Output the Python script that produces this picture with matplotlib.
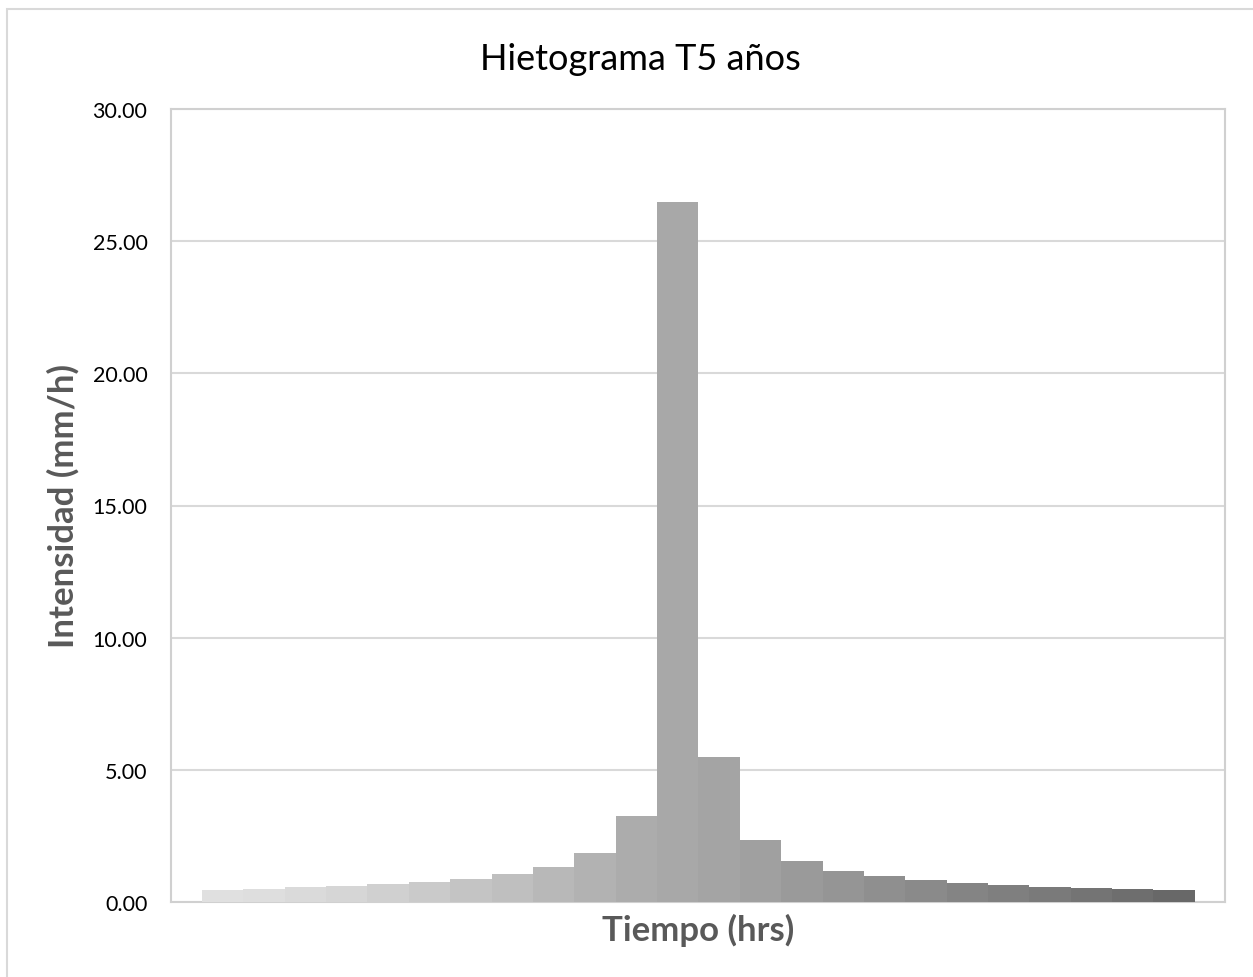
import matplotlib
matplotlib.use("Agg")
import matplotlib.pyplot as plt
import matplotlib.patches as patches
import numpy as np

# ---------------------------------------------------------------------------
# Données
# ---------------------------------------------------------------------------

intervalos = np.arange(1, 25)
intensidad = [0.45, 0.49, 0.57, 0.61, 0.68, 0.76, 0.87, 1.06, 1.32, 1.85,
              3.25, 26.50, 5.50, 2.35, 1.55, 1.17, 0.98, 0.83, 0.72, 0.64,
              0.57, 0.53, 0.49, 0.45]
grises = [224, 222, 218, 214, 208, 202, 196, 191, 184, 178, 172, 168,
          164, 160, 154, 149, 143, 138, 132, 127, 122, 116, 110, 104]
y_ticks = [0, 5, 10, 15, 20, 25, 30]

titulo  = "Hietograma T5 años"
x_label = "Tiempo (hrs)"
y_label = "Intensidad (mm/h)"

# ---------------------------------------------------------------------------
# Figure
# ---------------------------------------------------------------------------

plt.rcParams["font.family"] = ["Lato", "DejaVu Sans"]

W, H = 1253, 978
fig = plt.figure(figsize=(W / 100, H / 100), dpi=100)

# cadre extérieur du graphique (coupé à droite et en bas)
fig.patches.append(patches.Rectangle(
    (7 / W, -0.1), 1.2, (H - 10) / H + 0.1,
    transform=fig.transFigure, facecolor="none",
    edgecolor="#d9d9d9", linewidth=1.5, clip_on=False
))

left, right, top, bottom = 171, 1225, 110, 903
ax = fig.add_axes([left / W, (H - bottom) / H,
                   (right - left) / W, (bottom - top) / H])

couleurs = [(g / 255, g / 255, g / 255) for g in grises]
x = np.arange(len(intensidad))
ax.bar(x, intensidad, width=1.0, color=couleurs, linewidth=0, zorder=3)

ax.set_xlim(-0.5 - 0.75, len(intensidad) - 0.5 + 0.73)
ax.set_ylim(0, 30)
ax.set_yticks(y_ticks)
ax.set_yticklabels([f"{v:.2f}" for v in y_ticks], fontsize=15.5, color="#000000")
ax.set_xticks([])
ax.tick_params(axis="y", length=0, pad=17)
ax.grid(axis="y", color="#d9d9d9", linewidth=1.5, zorder=0)

for s in ax.spines.values():
    s.set_color("#d0d0d0")
    s.set_linewidth(1.5)

ax.set_xlabel(x_label, fontsize=25, fontweight="bold", color="#595959", labelpad=8)
ax.set_ylabel(y_label, fontsize=25, fontweight="bold", color="#595959", labelpad=9)

fig.text(640 / W, 1 - 60 / H, titulo, fontsize=26, color="#000000",
         ha="center", va="center")

fig.savefig("out.png", dpi=100)
